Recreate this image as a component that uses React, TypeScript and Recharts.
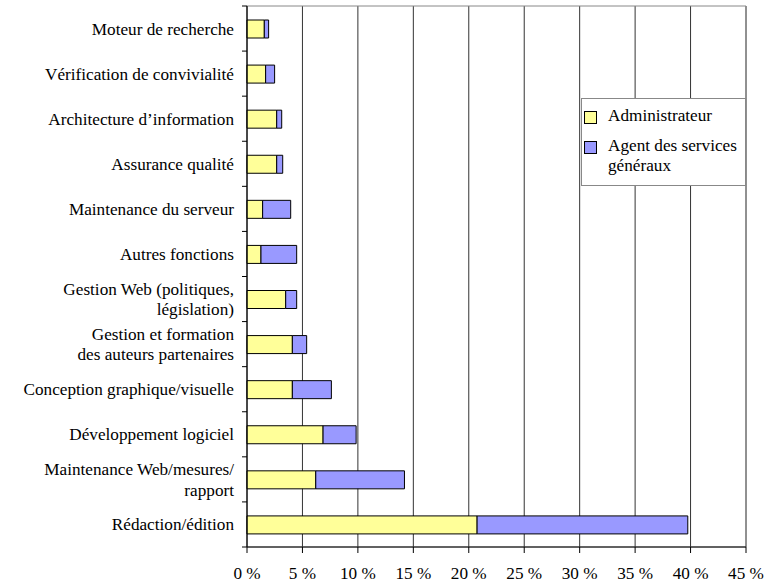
import { BarChart, Bar, XAxis, YAxis, CartesianGrid, ReferenceArea } from 'recharts';

const categories = [
  'Moteur de recherche',
  'Vérification de convivialité',
  'Architecture d’information',
  'Assurance qualité',
  'Maintenance du serveur',
  'Autres fonctions',
  'Gestion Web (politiques,\nlégislation)',
  'Gestion et formation\ndes auteurs partenaires',
  'Conception graphique/visuelle',
  'Développement logiciel',
  'Maintenance Web/mesures/\nrapport',
  'Rédaction/édition',
];
const administrateur = [1.56, 1.68, 2.68, 2.68, 1.41, 1.26, 3.49, 4.09, 4.09, 6.86, 6.2, 20.75];
const agentServices = [0.39, 0.81, 0.45, 0.54, 2.53, 3.22, 0.99, 1.29, 3.52, 2.98, 8.0, 19.0];
const xTicks = [0, 5, 10, 15, 20, 25, 30, 35, 40, 45];
const legendLabels = [['Administrateur'], ['Agent des services', 'généraux']];

const data = categories.map((name, i) => ({
  name,
  admin: administrateur[i],
  agent: agentServices[i],
}));

const FONT = "'Liberation Serif', Tinos, 'DejaVu Serif', serif";
const FS = 17.2;
const YELLOW = '#FFFF99';
const BLUE = '#9999FF';

function CategoryTick(props: any) {
  const { x, y, payload, index } = props;
  const half = payload?.offset ?? 22.5;
  const lines = String(payload.value).split('\n');
  const lh = 20.5;
  const start = -((lines.length - 1) * lh) / 2;
  return (
    <g>
      <line x1={x + 8} x2={x + 13} y1={y + half} y2={y + half} stroke="#000" />
      {index === 0 && <line x1={x + 8} x2={x + 13} y1={y - half} y2={y - half} stroke="#000" />}
      <text x={x} y={y} textAnchor="end" fill="#000" style={{ fontFamily: FONT, fontSize: FS }}>
        {lines.map((l, i) => (
          <tspan key={i} x={x} y={y + start + i * lh + 6}>
            {l}
          </tspan>
        ))}
      </text>
    </g>
  );
}

function LegendBox() {
  const colors = [YELLOW, BLUE];
  return (
    <div
      style={{
        position: 'absolute',
        left: 581,
        top: 98,
        width: 165,
        height: 88,
        boxSizing: 'border-box',
        background: '#fff',
        border: '1px solid #888',
        padding: '7px 0 0 2px',
        fontFamily: FONT,
        fontSize: FS,
        color: '#000',
      }}
    >
      {legendLabels.map((label, k) => (
        <div key={k} style={{ display: 'flex', alignItems: 'flex-start', marginBottom: 10 }}>
          <div
            style={{
              width: 11,
              height: 11,
              background: colors[k],
              border: '1px solid #000',
              marginTop: 5,
              marginRight: 11,
              flexShrink: 0,
            }}
          />
          <div style={{ lineHeight: '20px' }}>
            {label.map((l, i) => (
              <div key={i}>{l}</div>
            ))}
          </div>
        </div>
      ))}
    </div>
  );
}

export default function App() {
  return (
    <div style={{ position: 'absolute', left: 0, top: 0, width: 770, height: 588, background: '#fff' }}>
      <BarChart
        width={770}
        height={588}
        data={data}
        layout="vertical"
        margin={{ top: 6, right: 24, left: 0, bottom: 0 }}
        barSize={18}
      >
        <CartesianGrid horizontal={false} stroke="#333" />
        <XAxis
          type="number"
          domain={[0, 45]}
          ticks={xTicks}
          interval={0}
          height={41}
          tickSize={6}
          tickMargin={14}
          tickLine={{ stroke: '#000' }}
          axisLine={{ stroke: '#000' }}
          tick={{ fill: '#000', fontSize: FS, style: { fontFamily: FONT } }}
          tickFormatter={(v) => `${v} %`}
        />
        <YAxis
          type="category"
          dataKey="name"
          width={247}
          interval={0}
          tickSize={5}
          tickMargin={8}
          tickLine={false}
          axisLine={{ stroke: '#000' }}
          tick={<CategoryTick />}
        />
        <ReferenceArea x1={0} x2={45} fill="none" stroke="#888" strokeWidth={1} />
        <Bar dataKey="admin" stackId="a" fill={YELLOW} stroke="#000" strokeWidth={1} isAnimationActive={false} />
        <Bar dataKey="agent" stackId="a" fill={BLUE} stroke="#000" strokeWidth={1} isAnimationActive={false} />
      </BarChart>
      <LegendBox />
    </div>
  );
}
